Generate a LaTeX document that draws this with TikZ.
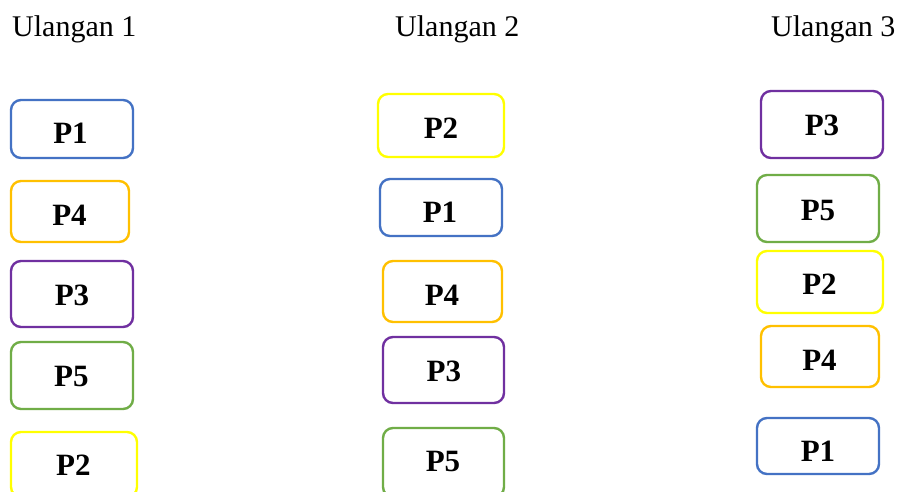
\documentclass[tikz,border=0pt]{standalone}
\usepackage{fontspec}
\setmainfont{Liberation Serif}
\definecolor{cblue}{HTML}{4472C4}
\definecolor{corange}{HTML}{FFC000}
\definecolor{cpurple}{HTML}{7030A0}
\definecolor{cgreen}{HTML}{70AD47}
\definecolor{cyellow}{HTML}{FFFF00}
\tikzset{
  pbox/.style={draw=#1, line width=2.4pt, rounded corners=10pt, fill=white},
  lbl/.style={anchor=base, inner sep=0pt, text=black, font=\fontsize{31}{31}\selectfont\bfseries},
  hdr/.style={anchor=base west, inner sep=0pt, text=black, font=\fontsize{30}{30}\selectfont}
}
\begin{document}
\begin{tikzpicture}[x=1pt,y=-1pt]
\useasboundingbox[fill=white] (0,0) rectangle (903,491);
\clip (0,0) rectangle (903,491);
% headers
\node[hdr] (h1) at (12,36.7) {Ulangan 1};
\node[hdr] (h2) at (395,36.7) {Ulangan 2};
\node[hdr] (h3) at (771,36.7) {Ulangan 3};
% column 1
\draw[pbox=cblue]   (11,100) rectangle (133,158);
\node[lbl] (a1) at (70.5,143.3) {P1};
\draw[pbox=corange] (11,181) rectangle (129,242);
\node[lbl] (a2) at (69.5,225) {P4};
\draw[pbox=cpurple] (11,261) rectangle (133,327);
\node[lbl] (a3) at (72,305) {P3};
\draw[pbox=cgreen]  (11,342) rectangle (133,409);
\node[lbl] (a4) at (71.3,386) {P5};
\draw[pbox=cyellow] (11,432) rectangle (137,497);
\node[lbl] (a5) at (73.3,475) {P2};
% column 2
\draw[pbox=cyellow] (378,94) rectangle (504,157);
\node[lbl] (b1) at (441,138.3) {P2};
\draw[pbox=cblue]   (380,179) rectangle (502,236);
\node[lbl] (b2) at (440,222.7) {P1};
\draw[pbox=corange] (383,261) rectangle (502,322);
\node[lbl] (b3) at (442,305) {P4};
\draw[pbox=cpurple] (383,337) rectangle (504,403);
\node[lbl] (b4) at (443.8,381) {P3};
\draw[pbox=cgreen]  (383,428) rectangle (504,497);
\node[lbl] (b5) at (443,471.7) {P5};
% column 3
\draw[pbox=cpurple] (761,91) rectangle (883,158);
\node[lbl] (c1) at (822,135) {P3};
\draw[pbox=cgreen]  (757,175) rectangle (879,242);
\node[lbl] (c2) at (818,220) {P5};
\draw[pbox=cyellow] (757,251) rectangle (883,313);
\node[lbl] (c3) at (819.5,294) {P2};
\draw[pbox=corange] (761,326) rectangle (879,387);
\node[lbl] (c4) at (819.5,370) {P4};
\draw[pbox=cblue]   (757,418) rectangle (879,474);
\node[lbl] (c5) at (818,461.7) {P1};
\end{tikzpicture}
\end{document}
